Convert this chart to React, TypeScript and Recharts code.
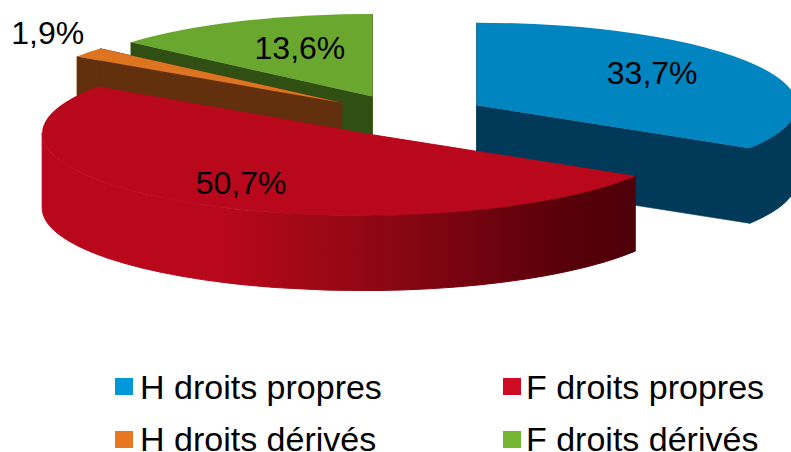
import React from 'react';
import { PieChart, Pie, Legend } from 'recharts';

const categories = ['H droits propres', 'F droits propres', 'H droits dérivés', 'F droits dérivés'];
const values = [33.7, 50.7, 1.9, 13.6];
const valueLabels = ['33,7%', '50,7%', '1,9%', '13,6%'];

const topColors = ['#0085C0', '#B9081C', '#DD7420', '#6AA72F'];
const wallColors = ['#003A58', 'url(#redWall)', '#63300D', '#2F4F13'];
const swatchColors = ['#0098D8', '#CF0A24', '#E87722', '#76B52F'];

// back-to-front painting order of the exploded slices
const drawOrder = [3, 2, 0, 1];

const W = 791;
const H = 452;
const CX = 406;
const CY = 115.5;
const R = 320;
const TILT = 0.258;
const EXPLODE = 81;
const DEPTH = 75;
const FONT = '"Liberation Sans", Arial, sans-serif';

const labelOffsets = [
  [175.5, -21.5],
  [-121, 60.5],
  [-294, -58.5],
  [-72.5, -37.5],
];
const legendBoxes = [
  { swatchX: 115, textX: 140, y: 378 },
  { swatchX: 503, textX: 526, y: 378 },
  { swatchX: 115, textX: 140, y: 431 },
  { swatchX: 503, textX: 526, y: 431 },
];
const legendTextTop = [375, 375, 427, 427];

const data = categories.map((name, i) => ({ name, value: values[i] }));
const rad = (d: number) => (d * Math.PI) / 180;

function apex(midAngle: number, cx: number, cy: number) {
  return [cx + EXPLODE * Math.cos(rad(midAngle)), cy - EXPLODE * TILT * Math.sin(rad(midAngle))];
}

function makeShape(sliceIndex: number) {
  return (props: any) => {
    if (props.name !== categories[sliceIndex]) return <g />;
    const { cx, cy, outerRadius: r, startAngle: a1, endAngle: a2, midAngle } = props;
    const [ox, oy] = apex(midAngle, cx, cy);
    const pt = (a: number, dy = 0) => [ox + r * Math.cos(rad(a)), oy - r * TILT * Math.sin(rad(a)) + dy];
    const ry = r * TILT;
    const p1 = pt(a1);
    const p2 = pt(a2);
    const large = Math.abs(a1 - a2) > 180 ? 1 : 0;
    const top = `M${ox},${oy}L${p1[0]},${p1[1]}A${r},${ry} 0 ${large} 1 ${p2[0]},${p2[1]}Z`;
    const wall = wallColors[sliceIndex];
    const radial = (p: number[]) =>
      `M${ox},${oy}L${p[0]},${p[1]}L${p[0]},${p[1] + DEPTH}L${ox},${oy + DEPTH}Z`;
    let outer = null;
    let b1: number | null = null;
    let b2: number | null = null;
    for (const k of [0, -360]) {
      const s = Math.min(a1, k);
      const e = Math.max(a2, k - 180);
      if (s > e) {
        b1 = s;
        b2 = e;
      }
    }
    if (b1 !== null && b2 !== null) {
      const q1 = pt(b1);
      const q2 = pt(b2);
      const q3 = pt(b2, DEPTH);
      const q4 = pt(b1, DEPTH);
      outer = `M${q1[0]},${q1[1]}A${r},${ry} 0 0 1 ${q2[0]},${q2[1]}L${q3[0]},${q3[1]}A${r},${ry} 0 0 0 ${q4[0]},${q4[1]}Z`;
    }
    const flat = wall.startsWith('url') ? '#B9081C' : wall;
    return (
      <g>
        <defs>
          <linearGradient id="redWall" gradientUnits="userSpaceOnUse" x1={42} y1={0} x2={636} y2={0}>
            <stop offset="0" stopColor="#B9081C" />
            <stop offset="0.3" stopColor="#B9081C" />
            <stop offset="0.5" stopColor="#980814" />
            <stop offset="0.72" stopColor="#740410" />
            <stop offset="0.88" stopColor="#58000A" />
            <stop offset="1" stopColor="#4E0008" />
          </linearGradient>
        </defs>
        <path d={radial(p1)} fill={flat} stroke={flat} strokeWidth={0.6} />
        <path d={radial(p2)} fill={flat} stroke={flat} strokeWidth={0.6} />
        {outer && <path d={outer} fill={wall} stroke={wall} strokeWidth={1} />}
        <path d={top} fill={topColors[sliceIndex]} />
      </g>
    );
  };
}

function makeLabel(sliceIndex: number) {
  return (props: any) => {
    if (props.name !== categories[sliceIndex]) return null;
    const [ox, oy] = apex(props.midAngle, props.cx, props.cy);
    const [dx, dy] = labelOffsets[sliceIndex];
    return (
      <text x={ox + dx} y={oy + dy} textAnchor="middle" fontFamily={FONT} fontSize={32} fill="#000">
        {valueLabels[sliceIndex]}
      </text>
    );
  };
}

function LegendBlock() {
  return (
    <div style={{ position: 'relative', width: W, height: H, fontFamily: FONT }}>
      {categories.map((name, i) => {
        const b = legendBoxes[i];
        return (
          <React.Fragment key={name}>
            <div style={{ position: 'absolute', left: b.swatchX, top: b.y, width: 18, height: 17, background: swatchColors[i] }} />
            <div style={{ position: 'absolute', left: b.textX, top: legendTextTop[i], fontSize: 34, lineHeight: '25px', color: '#000', whiteSpace: 'nowrap' }}>
              {name}
            </div>
          </React.Fragment>
        );
      })}
    </div>
  );
}

export default function App() {
  return (
    <div style={{ position: 'absolute', left: 0, top: 0, width: W, height: H, background: '#fff', overflow: 'hidden' }}>
      <PieChart width={W} height={H} margin={{ top: 0, right: 0, bottom: 0, left: 0 }}>
        {drawOrder.map((idx) => (
          <Pie
            key={idx}
            data={data}
            dataKey="value"
            nameKey="name"
            cx={CX}
            cy={CY}
            innerRadius={0}
            outerRadius={R}
            startAngle={90}
            endAngle={-270}
            paddingAngle={0}
            stroke="none"
            isAnimationActive={false}
            labelLine={false}
            label={makeLabel(idx)}
            shape={makeShape(idx)}
          />
        ))}
        <Legend content={<LegendBlock />} wrapperStyle={{ position: 'absolute', left: 0, top: 0, width: W, height: H, pointerEvents: 'none' }} />
      </PieChart>
    </div>
  );
}
